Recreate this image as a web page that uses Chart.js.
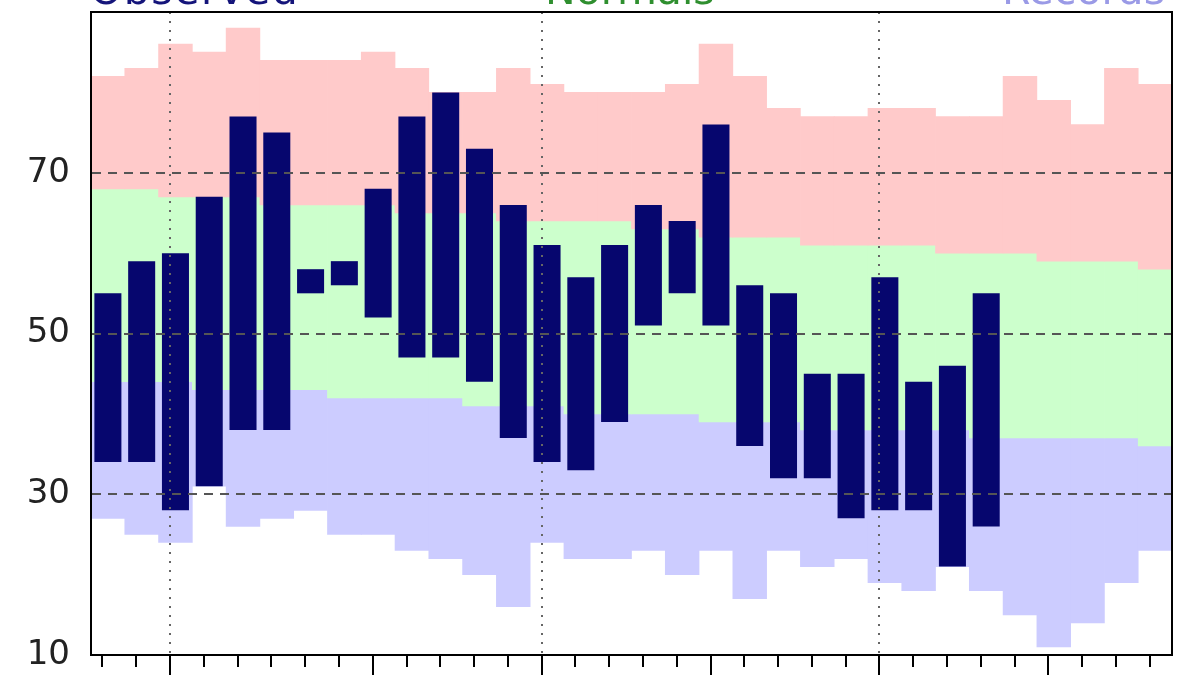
<!DOCTYPE html>
<html>
<head>
<meta charset="utf-8">
<script src="https://cdn.jsdelivr.net/npm/chart.js@4"></script>
<style>
  html, body { margin: 0; padding: 0; background: #fff; overflow: hidden; }
  #wrap { position: absolute; left: 0; top: 0; width: 1200px; height: 720px; }
  .key { position: absolute; top: -30px; font-family: "DejaVu Sans", sans-serif; font-size: 41px; line-height: 41px; white-space: nowrap; }
</style>
</head>
<body>
<div id="wrap">
  <canvas id="tempChart" width="1200" height="720"></canvas>
  <span class="key" style="left:90px;color:#14147a;letter-spacing:1.5px;">Observed</span>
  <span class="key" style="left:545px;color:#2f8f2f;">Normals</span>
  <span class="key" style="right:35px;color:#9a9ae6;">Records</span>
</div>
<script>
// one column per day, Oct 28 .. Nov 28
const days = ["28", "29", "30", "31", "1", "2", "3", "4", "5", "6", "7", "8", "9", "10", "11", "12",
              "13", "14", "15", "16", "17", "18", "19", "20", "21", "22", "23", "24", "25", "26", "27", "28"];

const recordHigh = [82, 83, 86, 85, 88, 84, 84, 84, 85, 83, 80, 80, 83, 81, 80, 80,
                    80, 81, 86, 82, 78, 77, 77, 78, 78, 77, 77, 82, 79, 76, 83, 81];
const normalHigh = [68, 68, 67, 67, 67, 66, 66, 66, 66, 65, 65, 65, 64, 64, 64, 64,
                    63, 63, 62, 62, 62, 61, 61, 61, 61, 60, 60, 60, 59, 59, 59, 58];
const normalLow  = [44, 44, 44, 43, 43, 43, 43, 42, 42, 42, 42, 41, 41, 41, 40, 40,
                    40, 40, 39, 39, 39, 38, 38, 38, 38, 38, 37, 37, 37, 37, 37, 36];
const recordLow  = [27, 25, 24, 31, 26, 27, 28, 25, 25, 23, 22, 20, 16, 24, 22, 22,
                    23, 20, 23, 17, 23, 21, 22, 19, 18, 21, 18, 15, 11, 14, 19, 23];

// observed so far (27 days)
const obsHigh = [55, 59, 60, 67, 77, 75, 58, 59, 68, 77, 80, 73, 66, 61, 57, 61,
                 66, 64, 76, 56, 55, 45, 45, 57, 44, 46, 55];
const obsLow  = [34, 34, 28, 31, 38, 38, 55, 56, 52, 47, 47, 44, 37, 34, 33, 39,
                 51, 55, 51, 36, 32, 32, 27, 28, 28, 21, 26];

const yTicks = [10, 30, 50, 70];

// day ticks sit a third of a column after the column start (midnight vs. bar centre)
const tickShift = 0.34;

const isMajor = i => Number(days[i]) % 5 === 0;
const isGridDay = i => Number(days[i]) % 10 === 0;

const pairs = (lo, hi) => hi.map((h, i) => [lo[i], h]);

const band = (label, lo, hi, color) => ({
    label: label,
    data: pairs(lo, hi),
    backgroundColor: color,
    borderWidth: 0,
    grouped: false,
    barPercentage: 1,
    categoryPercentage: 1,
    order: 1
});

const ctx = document.getElementById("tempChart").getContext("2d");
const chart = new Chart(ctx, {
    type: "bar",
    data: {
        labels: days,
        datasets: [
            {
                label: "Observed",
                data: pairs(obsLow, obsHigh),
                backgroundColor: "#06066e",
                borderWidth: 0,
                grouped: false,
                barPercentage: 0.8,
                categoryPercentage: 1,
                order: 0
            },
            band("Record high", normalHigh, recordHigh, "#ffcaca"),
            band("Normal", normalLow, normalHigh, "#ccffcc"),
            band("Record low", recordLow, normalLow, "#ccccff")
        ]
    },
    options: {
        responsive: false,
        animation: false,
        layout: { padding: { top: 12, right: 28, left: 0, bottom: 0 } },
        plugins: {
            legend: { display: false },
            title: { display: false },
            tooltip: { enabled: false }
        },
        scales: {
            x: { display: false, offset: true },
            dayAxis: {
                type: "linear",
                position: "bottom",
                offset: false,
                bounds: "data",
                min: -tickShift,
                max: days.length - tickShift,
                afterBuildTicks: s => { s.ticks = days.map((d, i) => ({ value: i })); },
                grid: {
                    z: 1,
                    offset: false,
                    color: c => c.tick && isGridDay(c.tick.value) ? "#666666" : "rgba(0,0,0,0)",
                    lineWidth: 2,
                    tickLength: 24,
                    tickColor: "#000",
                    tickWidth: 2,
                    tickBorderDash: c => c.tick && isMajor(c.tick.value) ? [] : [11, 100]
                },
                border: { z: 1, color: "#000", width: 2, dash: [2, 7] },
                ticks: {
                    autoSkip: false,
                    maxRotation: 0,
                    padding: 0,
                    color: "#222",
                    font: { family: "DejaVu Sans", size: 34 },
                    callback: v => isMajor(v) ? days[v] : ""
                },
                afterFit: s => { s.height = 65; s.paddingLeft = 0; s.paddingRight = 0; }
            },
            y: {
                min: 10,
                max: 90,
                afterBuildTicks: s => { s.ticks = yTicks.map(v => ({ value: v })); },
                grid: {
                    z: 1,
                    drawTicks: false,
                    color: c => c.tick && c.tick.value > 10 ? "#555" : "rgba(0,0,0,0)",
                    lineWidth: 2
                },
                border: { z: 1, color: "#000", width: 2, dash: [9, 7] },
                ticks: {
                    padding: 21,
                    color: "#222",
                    font: { family: "DejaVu Sans", size: 34 }
                },
                afterFit: s => { s.width = 91; s.paddingTop = 0; s.paddingBottom = 0; }
            },
            frameTop: {
                type: "category",
                position: "top",
                grid: { display: false },
                ticks: { display: false },
                border: { z: 1, color: "#000", width: 2 },
                afterFit: s => { s.height = 0; }
            },
            frameRight: {
                type: "linear",
                position: "right",
                grid: { display: false },
                ticks: { display: false },
                border: { z: 1, color: "#000", width: 2 },
                afterFit: s => { s.width = 0; }
            }
        }
    }
});
</script>
</body>
</html>
